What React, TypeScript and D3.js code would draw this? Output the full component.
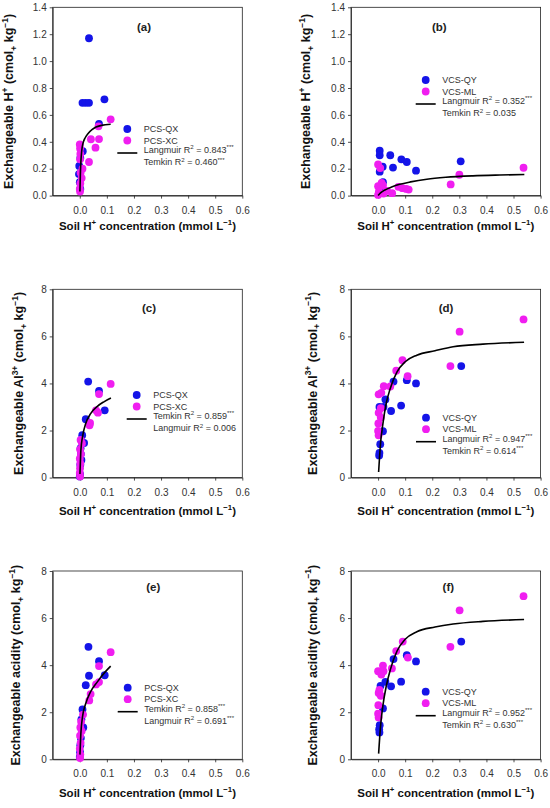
import React, { useRef, useEffect } from 'react';
import * as d3 from 'd3';

type Pt = [number, number];

const xTicks = [0, 0.1, 0.2, 0.3, 0.4, 0.5, 0.6];
const hTicks = [0, 0.2, 0.4, 0.6, 0.8, 1.0, 1.2, 1.4];
const alTicks = [0, 2, 4, 6, 8];

const pcsNames = ['PCS-QX', 'PCS-XC'];
const vcsNames = ['VCS-QY', 'VCS-ML'];

// (a) exchangeable H+, PCS soils
const aQX: Pt[] = [[0.034, 1.17], [0.010, 0.69], [0.022, 0.69], [0.034, 0.69], [0.091, 0.716], [0.071, 0.533], [0.011, 0.33], [0.002, 0.28], [-0.002, 0.22], [-0.003, 0.16], [0.0, 0.10], [0.002, 0.05]];
const aXC: Pt[] = [[0.114, 0.567], [0.069, 0.515], [0.071, 0.42], [0.041, 0.419], [0.058, 0.356], [0.034, 0.25], [0.0, 0.38], [0.001, 0.35], [0.002, 0.31], [0.001, 0.27], [0.010, 0.20], [0.003, 0.17], [0.007, 0.13], [0.002, 0.09], [0.0, 0.05], [0.001, 0.03]];
const aFit: Pt[] = [[0.0005, 0.03], [0.002, 0.15], [0.004, 0.25], [0.007, 0.33], [0.012, 0.39], [0.02, 0.43], [0.03, 0.46], [0.045, 0.49], [0.06, 0.51], [0.08, 0.522], [0.114, 0.53]];
const aFits = [['Langmuir', '0.843', '***'], ['Temkin', '0.460', '***']];

// (b) exchangeable H+, VCS soils
const bQY: Pt[] = [[0.006, 0.334], [0.006, 0.30], [0.045, 0.30], [0.086, 0.27], [0.106, 0.25], [0.14, 0.185], [0.055, 0.208], [0.006, 0.178], [0.017, 0.215], [0.305, 0.255], [0.018, 0.10], [0.012, 0.06], [0.006, 0.03]];
const bML: Pt[] = [[0.0, 0.232], [0.008, 0.205], [0.0, 0.07], [0.013, 0.095], [0.018, 0.075], [0.003, 0.03], [0.0, 0.005], [0.02, 0.015], [0.033, 0.035], [0.052, 0.018], [0.075, 0.065], [0.09, 0.055], [0.104, 0.05], [0.113, 0.045], [0.268, 0.083], [0.30, 0.155], [0.537, 0.207]];
const bFit: Pt[] = [[0.0, 0.0], [0.01, 0.022], [0.025, 0.042], [0.05, 0.064], [0.08, 0.084], [0.12, 0.102], [0.18, 0.122], [0.25, 0.136], [0.35, 0.147], [0.45, 0.153], [0.54, 0.157]];
const bFits = [['Langmuir', '0.352', '***'], ['Temkin', '0.035', '']];

// (c) exchangeable Al3+, PCS soils
const cQX: Pt[] = [[0.031, 4.08], [0.071, 3.68], [0.092, 2.86], [0.022, 2.48], [0.009, 1.8], [0.016, 1.47], [0.004, 1.0], [0.002, 0.55], [0.001, 0.15], [0.0, 0.05], [0.003, 1.25], [0.006, 0.75]];
const cXC: Pt[] = [[0.114, 3.98], [0.071, 3.55], [0.067, 2.76], [0.06, 2.86], [0.038, 2.32], [0.036, 2.22], [0.003, 1.6], [0.008, 1.45], [0.001, 1.2], [0.004, 1.0], [0.0, 0.8], [0.002, 0.6], [0.001, 0.4], [0.0, 0.2], [0.001, 0.05]];
const cFit: Pt[] = [[0.0005, 0.15], [0.002, 0.6], [0.004, 1.15], [0.01, 1.73], [0.022, 2.3], [0.04, 2.72], [0.065, 3.03], [0.089, 3.22], [0.115, 3.38]];
const cFits = [['Temkin', '0.859', '***'], ['Langmuir', '0.006', '']];

// (d) exchangeable Al3+, VCS soils
const dQY: Pt[] = [[0.307, 4.74], [0.106, 4.14], [0.14, 4.0], [0.057, 4.08], [0.027, 3.32], [0.02, 3.0], [0.005, 3.0], [0.048, 2.83], [0.085, 3.06], [0.018, 1.97], [0.008, 1.42], [0.005, 1.05], [0.004, 0.94]];
const dML: Pt[] = [[0.537, 6.72], [0.301, 6.2], [0.267, 4.74], [0.09, 4.99], [0.067, 4.54], [0.109, 4.31], [0.021, 3.88], [0.045, 3.87], [0.002, 3.54], [0.012, 3.6], [0.01, 2.95], [0.002, 2.75], [0.01, 2.55], [0.001, 2.3], [0.0, 1.98], [0.002, 1.8]];
const dFit: Pt[] = [[0.002, 0.24], [0.009, 1.45], [0.018, 2.3], [0.03, 3.15], [0.045, 3.79], [0.07, 4.49], [0.1, 4.92], [0.143, 5.2], [0.21, 5.39], [0.277, 5.56], [0.387, 5.67], [0.539, 5.75]];
const dFits = [['Langmuir', '0.947', '***'], ['Temkin', '0.614', '***']];

// (e) exchangeable acidity, PCS soils
const eQX: Pt[] = [[0.032, 4.78], [0.071, 4.17], [0.092, 3.57], [0.034, 3.55], [0.022, 3.15], [0.01, 2.12], [0.006, 1.7], [0.013, 1.35], [0.004, 0.9], [0.002, 0.6], [0.001, 0.3], [0.0, 0.1]];
const eXC: Pt[] = [[0.114, 4.55], [0.071, 3.96], [0.071, 3.28], [0.06, 3.18], [0.04, 2.77], [0.035, 2.5], [0.012, 1.9], [0.005, 1.6], [0.002, 1.35], [0.007, 1.2], [0.001, 1.0], [0.003, 0.7], [0.0, 0.45], [0.002, 0.2], [0.001, 0.05]];
const eFit: Pt[] = [[0.0005, 0.2], [0.002, 0.6], [0.004, 1.1], [0.01, 1.8], [0.022, 2.37], [0.04, 2.87], [0.065, 3.29], [0.089, 3.65], [0.114, 3.96]];
const eFits = [['Temkin', '0.858', '***'], ['Langmuir', '0.691', '***']];

// (f) exchangeable acidity, VCS soils
const fQY: Pt[] = [[0.307, 5.0], [0.106, 4.42], [0.14, 4.16], [0.057, 4.26], [0.027, 3.29], [0.048, 3.1], [0.085, 3.3], [0.009, 3.12], [0.018, 2.16], [0.006, 1.45], [0.004, 1.28], [0.005, 1.14]];
const fML: Pt[] = [[0.537, 6.93], [0.301, 6.33], [0.267, 4.78], [0.091, 5.0], [0.067, 4.6], [0.11, 4.32], [0.018, 3.98], [0.051, 3.86], [0.0, 3.74], [0.02, 3.74], [0.012, 3.6], [0.005, 2.95], [0.002, 2.82], [0.01, 2.7], [0.001, 2.3], [0.0, 1.94], [0.002, 1.78]];
const fFit: Pt[] = [[0.002, 0.24], [0.009, 1.4], [0.018, 2.3], [0.03, 3.1], [0.045, 3.8], [0.07, 4.6], [0.1, 5.1], [0.143, 5.42], [0.21, 5.62], [0.277, 5.75], [0.387, 5.86], [0.539, 5.94]];
const fFits = [['Langmuir', '0.952', '***'], ['Temkin', '0.630', '***']];

type Seg = { t: string; sup?: boolean; sub?: boolean };
const hTitle: Seg[] = [{ t: 'Exchangeable H' }, { t: '+', sup: true }, { t: ' (cmol' }, { t: '+', sub: true }, { t: ' kg' }, { t: '−1', sup: true }, { t: ')' }];
const alTitle: Seg[] = [{ t: 'Exchangeable Al' }, { t: '3+', sup: true }, { t: ' (cmol' }, { t: '+', sub: true }, { t: ' kg' }, { t: '−1', sup: true }, { t: ')' }];
const acTitle: Seg[] = [{ t: 'Exchangeable acidity (cmol' }, { t: '+', sub: true }, { t: ' kg' }, { t: '−1', sup: true }, { t: ')' }];
const xTitle: Seg[] = [{ t: 'Soil H' }, { t: '+', sup: true }, { t: ' concentration (mmol L' }, { t: '−1', sup: true }, { t: ')' }];

const FONT = '"Liberation Sans", Arial, sans-serif';
const BLUE = '#1414e8';
const PINK = '#f01ef0';
const W = 189.6;
const H = 188.3;
const R = 3.9;

const panels = [
  { label: '(a)', left: 52.7, top: 7.3, yMax: 1.4, yTicks: hTicks, fmt: '.1f', s1: aQX, s2: aXC, fit: aFit, names: pcsNames, fits: aFits, yTitle: hTitle, yTitleX: -39.4, xTitleY: 34.3, legX: 74.6, legY: 121.7, labX: 91.3, labY: 19.4 },
  { label: '(b)', left: 351, top: 7.3, yMax: 1.4, yTicks: hTicks, fmt: '.1f', s1: bQY, s2: bML, fit: bFit, names: vcsNames, fits: bFits, yTitle: hTitle, yTitleX: -41, xTitleY: 34.3, legX: 74.7, legY: 72.7, labX: 88.3, labY: 19.4 },
  { label: '(c)', left: 52.7, top: 289.3, yMax: 8, yTicks: alTicks, fmt: 'd', s1: cQX, s2: cXC, fit: cFit, names: pcsNames, fits: cFits, yTitle: alTitle, yTitleX: -29.4, xTitleY: 37.7, legX: 84, legY: 105.7, labX: 96.3, labY: 19 },
  { label: '(d)', left: 351, top: 289.3, yMax: 8, yTicks: alTicks, fmt: 'd', s1: dQY, s2: dML, fit: dFit, names: vcsNames, fits: dFits, yTitle: alTitle, yTitleX: -34.3, xTitleY: 37.7, legX: 75, legY: 128.4, labX: 95, labY: 19 },
  { label: '(e)', left: 52.7, top: 571, yMax: 8, yTicks: alTicks, fmt: 'd', s1: eQX, s2: eXC, fit: eFit, names: pcsNames, fits: eFits, yTitle: acTitle, yTitleX: -32.7, xTitleY: 37.7, legX: 75, legY: 116.7, labX: 100.6, labY: 15.7 },
  { label: '(f)', left: 351, top: 571, yMax: 8, yTicks: alTicks, fmt: 'd', s1: fQY, s2: fML, fit: fFit, names: vcsNames, fits: fFits, yTitle: acTitle, yTitleX: -34.3, xTitleY: 37.7, legX: 74.7, legY: 120.7, labX: 97.3, labY: 15.7 },
];

const rich = (text: any, segs: Seg[], size: number) => {
  let shift = 0;
  segs.forEach((s) => {
    const target = s.sup ? -0.42 * size : s.sub ? 0.28 * size : 0;
    text
      .append('tspan')
      .attr('dy', target - shift)
      .attr('font-size', s.sup || s.sub ? size * 0.68 : size)
      .text(s.t);
    shift = target;
  });
};

const App = () => {
  const Svg = useRef<SVGSVGElement>(null);
  useEffect(() => {
    const svg = d3.select(Svg.current);
    svg.selectAll('*').remove();
    svg.append('rect').attr('width', 550).attr('height', 808).attr('fill', '#fff');

    panels.forEach((p) => {
      const g = svg.append('g').attr('transform', `translate(${p.left},${p.top})`);
      const x = d3.scaleLinear().domain([-0.1, 0.6]).range([0, W]);
      const y = d3.scaleLinear().domain([0, p.yMax]).range([H, 0]);

      g.append('rect')
        .attr('width', W)
        .attr('height', H)
        .attr('fill', 'none')
        .attr('stroke', '#222')
        .attr('stroke-width', 0.8);

      const xa = g
        .append('g')
        .attr('transform', `translate(0,${H})`)
        .call(d3.axisBottom(x).tickValues(xTicks).tickSize(3).tickSizeOuter(0).tickPadding(8).tickFormat(d3.format('.1f')));
      const ya = g
        .append('g')
        .call(d3.axisLeft(y).tickValues(p.yTicks).tickSize(3).tickSizeOuter(0).tickPadding(3).tickFormat(d3.format(p.fmt)));
      [xa, ya].forEach((a) => {
        a.attr('font-family', FONT).attr('font-size', 10);
        a.select('.domain').attr('stroke', '#222').attr('stroke-width', 0.8);
        a.selectAll('line').attr('stroke', '#222').attr('stroke-width', 0.8);
        a.selectAll('text').attr('fill', '#333');
      });

      // points
      g.append('g')
        .selectAll('circle')
        .data(p.s1)
        .join('circle')
        .attr('cx', (d) => x(d[0]))
        .attr('cy', (d) => y(d[1]))
        .attr('r', R)
        .attr('fill', BLUE);
      g.append('g')
        .selectAll('circle')
        .data(p.s2)
        .join('circle')
        .attr('cx', (d) => x(d[0]))
        .attr('cy', (d) => y(d[1]))
        .attr('r', R)
        .attr('fill', PINK);

      // fitted curve
      const line = d3
        .line<Pt>()
        .x((d) => x(d[0]))
        .y((d) => y(d[1]))
        .curve(d3.curveMonotoneX);
      g.append('path').attr('d', line(p.fit)).attr('fill', 'none').attr('stroke', '#000').attr('stroke-width', 1.6);

      // panel label
      g.append('text')
        .attr('x', p.labX)
        .attr('y', p.labY)
        .attr('dy', '0.35em')
        .attr('text-anchor', 'middle')
        .attr('font-family', FONT)
        .attr('font-weight', 'bold')
        .attr('font-size', 11.5)
        .attr('fill', '#222')
        .text(p.label);

      // legend
      const rows = [0, 11.5, 24, 36.5];
      const leg = g.append('g').attr('font-family', FONT).attr('fill', '#333');
      [BLUE, PINK].forEach((c, i) => {
        leg.append('circle').attr('cx', p.legX).attr('cy', p.legY + rows[i]).attr('r', R).attr('fill', c);
        leg.append('text')
          .attr('x', p.legX + 16.5)
          .attr('y', p.legY + rows[i])
          .attr('dy', '0.35em')
          .attr('font-size', 9)
          .text(p.names[i]);
      });
      leg.append('line')
        .attr('x1', p.legX - 10)
        .attr('x2', p.legX + 10)
        .attr('y1', p.legY + rows[2])
        .attr('y2', p.legY + rows[2])
        .attr('stroke', '#000')
        .attr('stroke-width', 1.6);
      p.fits.forEach((f, i) => {
        const t = leg.append('text')
          .attr('x', p.legX + 16.5)
          .attr('y', p.legY + rows[2 + i])
          .attr('dy', '0.35em');
        rich(t, [{ t: `${f[0]} R` }, { t: '2', sup: true }, { t: ` = ${f[1]}` }, { t: f[2], sup: true }], 9);
      });

      // axis titles
      const xt = g.append('text')
        .attr('x', W / 2)
        .attr('y', H + p.xTitleY)
        .attr('dy', '0.35em')
        .attr('text-anchor', 'middle')
        .attr('font-family', FONT)
        .attr('font-weight', 'bold')
        .attr('fill', '#111');
      rich(xt, xTitle, 11.5);

      const yt = g.append('text')
        .attr('transform', `translate(${p.yTitleX},${H / 2}) rotate(-90)`)
        .attr('dy', '0.35em')
        .attr('text-anchor', 'middle')
        .attr('font-family', FONT)
        .attr('font-weight', 'bold')
        .attr('fill', '#111');
      rich(yt, p.yTitle, 12.5);
    });
  }, []);
  return <svg ref={Svg} width={550} height={808} style={{ position: 'absolute', left: 0, top: 0 }} />;
};

export default App;
